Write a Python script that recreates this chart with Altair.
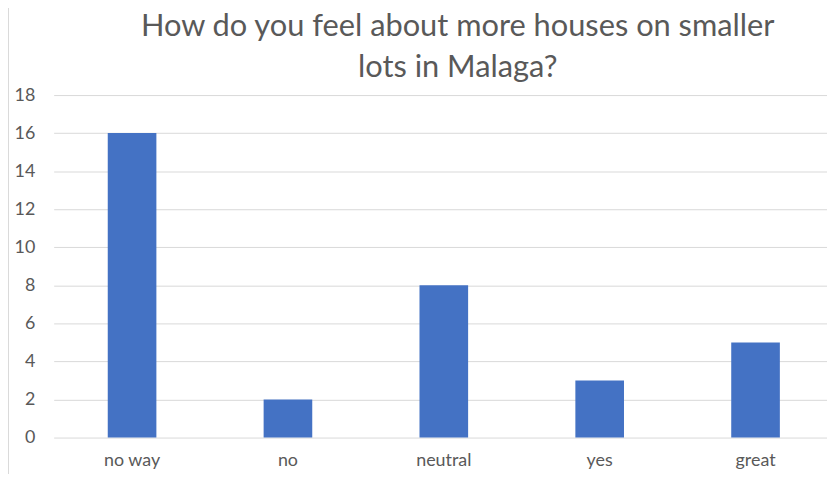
import altair as alt
import pandas as pd

categories = ["no way", "no", "neutral", "yes", "great"]
counts = [16, 2, 8, 3, 5]
title_lines = ["How do you feel about more houses on smaller", "lots in Malaga?"]

df = pd.DataFrame({"answer": categories, "count": counts})
tdf = pd.DataFrame({"line": title_lines, "row": [0, 1]})

FONT = "Lato"

bars = alt.Chart(df).mark_bar(color="#4472C4").encode(
    x=alt.X(
        "answer:N",
        sort=categories,
        title=None,
        scale=alt.Scale(range=[0, 786], paddingInner=0.688, paddingOuter=0.347),
        axis=alt.Axis(
            labelAngle=0, ticks=False, domain=False, grid=False,
            labelFont=FONT, labelFontSize=18, labelColor="#595959", labelPadding=14,
        ),
    ),
    y=alt.Y(
        "count:Q",
        title=None,
        scale=alt.Scale(domain=[0, 18], nice=False),
        axis=alt.Axis(
            values=list(range(0, 19, 2)), ticks=False, domain=False,
            gridColor="#d9d9d9", gridWidth=1,
            labelFont=FONT, labelFontSize=18, labelColor="#595959", labelPadding=19,
        ),
    ),
)

title = alt.Chart(tdf).mark_text(
    font=FONT, fontSize=31, color="#595959", align="center", baseline="middle"
).encode(
    text="line:N",
    x=alt.value(407),
    y=alt.Y("row:Q", axis=None, scale=alt.Scale(domain=[0, 1], range=[-69, -27])),
)

border = alt.Chart(df).mark_rule(color="#d9d9d9", strokeWidth=1).encode(
    x=alt.value(-46), y=alt.value(-94), y2=alt.value(388)
)

chart = alt.layer(bars, title, border).resolve_scale(y="independent").properties(
    width=779,
    height=345,
    autosize="none",
    padding={"left": 46, "top": 86, "right": 0, "bottom": 35},
).configure_view(stroke=None)

chart.save("out.html", embed_options={"renderer": "svg", "actions": False})
